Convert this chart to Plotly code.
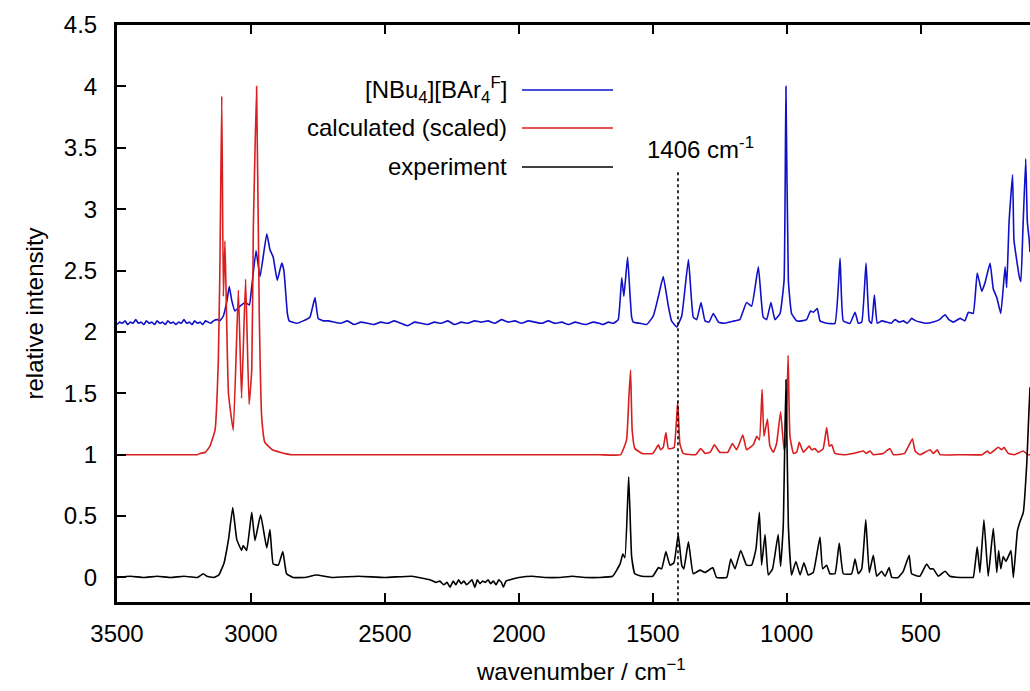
import plotly.graph_objects as go

# ---------------- data ----------------
# [NBu4][BArF4] spectrum (offset trace, blue)
salt_wn = [3500, 3490, 3480, 3470, 3460, 3450, 3440, 3430, 3420, 3410, 3400, 3390, 3380, 3370,
           3360, 3350, 3340, 3330, 3320, 3310, 3300, 3290, 3280, 3270, 3260, 3250, 3240, 3230,
           3220, 3210, 3200, 3190, 3180, 3170, 3160, 3150, 3140, 3125, 3116, 3103, 3090, 3081,
           3072, 3060, 3041, 3022, 3006,
           2997, 2981, 2966, 2941, 2929, 2917, 2902, 2885, 2877, 2864, 2857, 2829, 2805, 2780,
           2761, 2749, 2730, 2711, 2690, 2665, 2640, 2615, 2590, 2565, 2540, 2515, 2490, 2465,
           2440, 2415, 2390, 2365, 2340, 2315, 2290, 2265, 2240, 2215, 2190, 2165, 2140, 2115,
           2090, 2065, 2040, 2015, 1990, 1965, 1940, 1915, 1890, 1865, 1840, 1815, 1790, 1772,
           1750, 1722, 1700, 1685, 1665, 1647, 1629, 1616, 1608, 1594, 1585, 1579, 1573, 1548,
           1523, 1498, 1479, 1461, 1442, 1430, 1411, 1392, 1367, 1349, 1336, 1320, 1305, 1290,
           1274, 1255, 1235, 1212, 1195, 1175, 1150, 1131, 1106, 1088, 1075, 1059, 1044, 1025,
           1010, 1003, 994, 982, 963, 944, 926, 911, 901, 886, 876, 851, 820, 801, 789, 764,
           745, 733, 720, 704, 692, 683, 673, 662, 645, 627, 610, 596, 580, 565, 550, 534, 518,
           503, 480, 453, 430, 409, 395, 378, 353, 335, 322, 304, 289, 272, 260, 241, 229, 216,
           201, 185, 179, 170, 157, 152, 144, 132, 126, 119, 108, 102, 95, 92]
salt_int = [2.06, 2.08, 2.07, 2.09, 2.06, 2.08, 2.07, 2.10, 2.07, 2.08, 2.06, 2.09, 2.07, 2.08,
            2.06, 2.09, 2.07, 2.08, 2.06, 2.09, 2.07, 2.08, 2.06, 2.08, 2.07, 2.10, 2.07, 2.08,
            2.06, 2.09, 2.07, 2.08, 2.06, 2.09, 2.08, 2.07, 2.09, 2.10, 2.09, 2.13, 2.25, 2.37,
            2.26, 2.17, 2.21, 2.24, 2.22,
            2.37, 2.66, 2.45, 2.80, 2.67, 2.61, 2.42, 2.56, 2.50, 2.15, 2.09, 2.07, 2.09, 2.12,
            2.28, 2.11, 2.09, 2.09, 2.08, 2.07, 2.09, 2.06, 2.08, 2.07, 2.06, 2.08, 2.07, 2.09,
            2.07, 2.05, 2.08, 2.07, 2.06, 2.08, 2.07, 2.09, 2.06, 2.08, 2.07, 2.09, 2.08, 2.09,
            2.07, 2.10, 2.08, 2.09, 2.07, 2.09, 2.08, 2.07, 2.09, 2.07, 2.08, 2.06, 2.08, 2.07,
            2.06, 2.08, 2.07, 2.06, 2.08, 2.07, 2.10, 2.44, 2.29, 2.61, 2.30, 2.12, 2.08, 2.07,
            2.06, 2.13, 2.29, 2.45, 2.21, 2.09, 2.04, 2.13, 2.59, 2.12, 2.10, 2.24, 2.09, 2.08,
            2.15, 2.08, 2.07, 2.08, 2.09, 2.10, 2.24, 2.21, 2.53, 2.12, 2.10, 2.24, 2.10, 2.15,
            2.42, 4.00, 2.42, 2.15, 2.09, 2.09, 2.10, 2.17, 2.16, 2.19, 2.09, 2.07, 2.07, 2.60,
            2.09, 2.07, 2.16, 2.07, 2.08, 2.56, 2.09, 2.07, 2.30, 2.07, 2.09, 2.08, 2.07, 2.10,
            2.08, 2.09, 2.07, 2.11, 2.09, 2.08, 2.07, 2.08, 2.10, 2.14, 2.10, 2.08, 2.11, 2.09,
            2.16, 2.15, 2.48, 2.33, 2.40, 2.56, 2.35, 2.28, 2.15, 2.53, 2.36, 2.90, 3.28, 2.75,
            2.62, 2.45, 2.41, 2.80, 3.41, 2.90, 2.75, 2.65]

# calculated spectrum (scaled, offset, red)
calc_wn = [3500, 3400, 3300, 3250, 3200, 3190, 3170, 3153, 3134, 3122, 3116, 3109, 3103, 3097,
           3084, 3066, 3047, 3035, 3020, 3007, 2997, 2991, 2988, 2979, 2969, 2960, 2948, 2920,
           2892, 2850, 2700, 2500, 2300, 2100, 1900, 1700, 1620, 1598, 1589, 1583, 1577, 1567,
           1540, 1500, 1479, 1471, 1461, 1451, 1442, 1430, 1420, 1407, 1399, 1386, 1340, 1321,
           1305, 1286, 1270, 1250, 1220, 1203, 1187, 1164, 1150, 1125, 1112, 1102, 1092, 1085,
           1072, 1063, 1050, 1038, 1023, 1010, 1003, 995, 988, 975, 963, 953, 938, 916, 907,
           895, 882, 864, 851, 841, 832, 820, 790, 752, 714, 704, 689, 677, 640, 615, 602, 560,
           531, 521, 503, 465, 453, 438, 428, 350, 270, 251, 241, 210, 198, 189, 173, 150, 117,
           100, 92]
calc_int = [1.00, 1.00, 1.00, 1.00, 1.00, 1.01, 1.02, 1.07, 1.20, 1.75, 2.50, 3.92, 2.29, 2.74,
            1.50, 1.20, 2.34, 1.46, 2.43, 1.41, 1.69, 2.86, 3.16, 4.00, 2.15, 1.31, 1.10, 1.04,
            1.02, 1.00, 1.00, 1.00, 1.00, 1.00, 1.00, 1.00, 1.00, 1.12, 1.48, 1.69, 1.20, 1.05,
            1.01, 1.01, 1.08, 1.04, 1.06, 1.18, 1.05, 1.05, 1.06, 1.43, 1.09, 1.01, 1.00, 1.05,
            1.01, 1.02, 1.08, 1.02, 1.02, 1.09, 1.04, 1.16, 1.04, 1.08, 1.15, 1.12, 1.53, 1.15,
            1.29, 1.07, 1.02, 1.09, 1.35, 1.04, 1.09, 1.81, 1.15, 1.01, 1.02, 1.10, 1.02, 1.07,
            1.04, 1.05, 1.02, 1.05, 1.22, 1.07, 1.08, 1.01, 1.00, 1.01, 1.03, 1.01, 1.03, 1.00,
            1.01, 1.05, 1.00, 1.01, 1.13, 1.03, 1.00, 1.04, 1.01, 1.04, 1.00, 1.00, 1.00, 1.03,
            1.01, 1.06, 1.04, 1.06, 1.01, 1.00, 1.03, 1.00, 1.00]

# experiment (black)
exp_wn = [3500, 3450, 3400, 3350, 3300, 3250, 3200, 3178, 3165, 3140, 3120, 3100, 3090, 3083,
          3068, 3053, 3035, 3029, 3016, 2997, 2985, 2964, 2941, 2929, 2917, 2898, 2881, 2867,
          2843, 2800, 2755, 2700, 2600, 2500, 2400, 2350, 2330, 2310, 2295, 2280, 2268, 2257,
          2245, 2235, 2225, 2215, 2205, 2195, 2185, 2175, 2164, 2155, 2145, 2135, 2125, 2115,
          2105, 2095, 2085, 2075, 2065, 2058, 2048, 2035, 2020, 2000, 1950, 1900, 1850, 1800,
          1750, 1700, 1650, 1622, 1612, 1604, 1590, 1579, 1567, 1540, 1500, 1479, 1467, 1451,
          1436, 1421, 1405, 1392, 1384, 1367, 1349, 1324, 1305, 1276, 1262, 1224, 1209, 1193,
          1172, 1150, 1131, 1115, 1102, 1094, 1081, 1069, 1053, 1032, 1023, 1013, 1003, 994,
          982, 966, 950, 936, 920, 901, 876, 866, 851, 839, 820, 804, 789, 758, 745, 733, 720,
          705, 692, 677, 664, 646, 633, 618, 608, 584, 565, 543, 534, 503, 478, 465, 453, 434,
          409, 391, 353, 316, 304, 289, 279, 264, 248, 229, 216, 209, 201, 192, 182, 173, 163,
          154, 139, 130, 117, 104, 97, 92]
exp_int = [0.00, 0.01, 0.00, 0.01, 0.00, 0.01, 0.00, 0.03, 0.01, 0.00, 0.02, 0.12, 0.23, 0.32,
           0.57, 0.31, 0.22, 0.26, 0.22, 0.53, 0.30, 0.51, 0.24, 0.39, 0.11, 0.10, 0.21, 0.03,
           0.00, 0.00, 0.02, 0.00, 0.01, 0.00, 0.01, -0.01, -0.02, -0.04, -0.03, -0.06, -0.04,
           -0.08, -0.03, -0.06, -0.02, -0.05, -0.03, -0.06, -0.04, -0.02, -0.08, -0.02, -0.05,
           -0.03, -0.04, -0.02, -0.05, -0.03, -0.06, -0.02, -0.04, -0.08, -0.03, -0.02, -0.01,
           0.00, 0.01, 0.00, 0.00, 0.01, 0.00, 0.00, 0.01, 0.11, 0.19, 0.16, 0.82, 0.17, 0.03,
           0.01, 0.01, 0.08, 0.07, 0.21, 0.10, 0.12, 0.35, 0.10, 0.07, 0.29, 0.03, 0.06, 0.04,
           0.08, 0.00, 0.00, 0.15, 0.07, 0.22, 0.10, 0.10, 0.23, 0.53, 0.10, 0.35, 0.02, 0.07,
           0.35, 0.09, 0.42, 1.61, 0.42, 0.02, 0.13, 0.02, 0.12, 0.02, 0.04, 0.33, 0.07, 0.10,
           0.03, 0.03, 0.28, 0.03, 0.03, 0.15, 0.03, 0.07, 0.47, 0.04, 0.18, 0.01, 0.05, 0.01,
           0.08, 0.00, 0.00, 0.05, 0.18, 0.03, 0.01, 0.11, 0.07, 0.07, 0.01, 0.05, 0.01, 0.00,
           0.00, 0.00, 0.25, 0.04, 0.47, 0.01, 0.40, 0.04, 0.22, 0.07, 0.17, 0.13, 0.17, 0.22,
           0.00, 0.38, 0.45, 0.53, 0.93, 1.30, 1.55]

series_names = ["[NBu<sub>4</sub>][BAr<sub>4</sub><sup>F</sup>]", "calculated (scaled)", "experiment"]
series_colors = ["#1010c8", "#d81e1e", "#000000"]

marker_wn = 1406
marker_label = "1406 cm<sup>-1</sup>"

x_title = "wavenumber / cm<sup>\u22121</sup>"
y_title = "relative intensity"
x_ticks = [3500, 3000, 2500, 2000, 1500, 1000, 500]
y_ticks = [0, 0.5, 1, 1.5, 2, 2.5, 3, 3.5, 4, 4.5]
y_ticklabels = ["0", "0.5", "1", "1.5", "2", "2.5", "3", "3.5", "4", "4.5"]

# ---------------- figure ----------------
fig = go.Figure()
for xs, ys, name, col in [(salt_wn, salt_int, series_names[0], series_colors[0]),
                          (calc_wn, calc_int, series_names[1], series_colors[1]),
                          (exp_wn, exp_int, series_names[2], series_colors[2])]:
    fig.add_trace(go.Scatter(x=xs, y=ys, mode="lines", name=name,
                             line=dict(color=col, width=1.6, shape="spline", smoothing=0.35),
                             showlegend=False))

FONT = "Liberation Sans, Arial, sans-serif"

fig.update_layout(
    width=1030, height=691,
    margin=dict(l=117, r=0, t=25, b=89),
    paper_bgcolor="white", plot_bgcolor="white",
    font=dict(family=FONT, size=24, color="black"),
    showlegend=False,
    xaxis=dict(range=[3500, 92], tickmode="array", tickvals=x_ticks,
               ticks="inside", ticklen=9, tickwidth=1.5, tickcolor="black",
               showline=True, linewidth=3, linecolor="black", mirror="ticks",
               showgrid=False, zeroline=False, ticklabelstandoff=8),
    yaxis=dict(range=[-0.2, 4.5], tickmode="array", tickvals=y_ticks, ticktext=y_ticklabels,
               ticks="inside", ticklen=9, tickwidth=1.5, tickcolor="black",
               showline=True, linewidth=3, linecolor="black", mirror=False,
               showgrid=False, zeroline=False, ticklabelstandoff=12,
               title=dict(text=y_title, standoff=14, font=dict(size=24))),
)

# x-axis title placed like the reference (slightly lower than plotly's default)
fig.add_annotation(x=0.508, y=-0.118, xref="paper", yref="paper", text=x_title,
                   showarrow=False, xanchor="center", yanchor="middle", font=dict(size=24))

# dotted marker line at 1406 cm-1
fig.add_shape(type="line", xref="x", yref="y", x0=marker_wn, x1=marker_wn, y0=3.30, y1=-0.2,
              line=dict(color="black", width=1.6, dash="dot"))
fig.add_annotation(x=marker_wn, y=3.36, xref="x", yref="y", text=marker_label, showarrow=False,
                   xanchor="center", yanchor="bottom", xshift=23, font=dict(size=24))

# gnuplot-style key: right-aligned text followed by a line sample
key_rows = [0.8874, 0.8215, 0.7539]
for name, col, yy in zip(series_names, series_colors, key_rows):
    fig.add_annotation(x=0.4294, y=yy, xref="paper", yref="paper", text=name, showarrow=False,
                       xanchor="right", yanchor="middle", font=dict(size=24))
    fig.add_shape(type="line", xref="paper", yref="paper", x0=0.4436, x1=0.5433, y0=yy, y1=yy,
                  line=dict(color=col, width=1.6))

fig.write_html("out.html")
